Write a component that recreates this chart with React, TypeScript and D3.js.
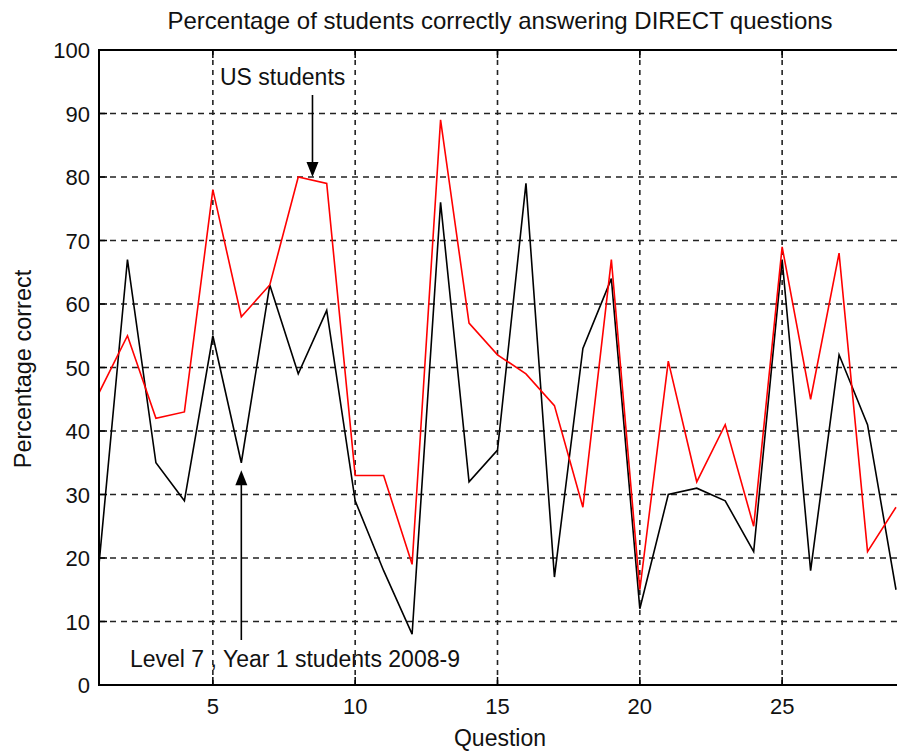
import React from "react";
import * as d3 from "d3";

const questions = d3.range(1, 30);
const levelSeven = [19, 67, 35, 29, 55, 35, 63, 49, 59, 29, 18, 8, 76, 32, 37, 79, 17, 53, 64, 12, 30, 31, 29, 21, 67, 18, 52, 41, 15];
const usStudents = [46, 55, 42, 43, 78, 58, 63, 80, 79, 33, 33, 19, 89, 57, 52, 49, 44, 28, 67, 15, 51, 32, 41, 25, 69, 45, 68, 21, 28];
const xTicks = [5, 10, 15, 20, 25];
const yTicks = [0, 10, 20, 30, 40, 50, 60, 70, 80, 90, 100];

const W = 897, H = 751;
const L = 99, R = 896, T = 50, B = 685;
const FONT = "'Liberation Sans', Arial, Helvetica, sans-serif";

export default function App() {
  const x = d3.scaleLinear().domain([1, 29]).range([L, R]);
  const y = d3.scaleLinear().domain([0, 100]).range([B, T]);
  const line = d3.line<number>().x((_, i) => x(questions[i])).y((d) => y(d));

  const usX = x(8.5), usTip = y(80);
  const lvX = x(6), lvTip = y(33.8);

  return (
    <svg width={W} height={H} style={{ position: "absolute", left: 0, top: 0, background: "#fff" }} fontFamily={FONT}>
      <defs>
        <clipPath id="plot">
          <rect x={L} y={T} width={W - L} height={B - T} />
        </clipPath>
      </defs>
      <rect x={0} y={0} width={W} height={H} fill="#fff" />
      {/* grid */}
      {yTicks.filter((t) => t > 0 && t < 100).map((t) => (
        <line key={"gy" + t} x1={L} x2={W} y1={y(t)} y2={y(t)} stroke="#222" strokeWidth={1.6} strokeDasharray="6,5" />
      ))}
      {xTicks.map((t) => (
        <line key={"gx" + t} x1={x(t)} x2={x(t)} y1={T} y2={B} stroke="#222" strokeWidth={1.6} strokeDasharray="5,5" />
      ))}
      {/* data */}
      <g clipPath="url(#plot)">
        <path d={line(levelSeven) || ""} fill="none" stroke="#000" strokeWidth={1.6} />
        <path d={line(usStudents) || ""} fill="none" stroke="#ff0000" strokeWidth={1.6} />
      </g>
      {/* axes */}
      <line x1={L} x2={L} y1={T - 1} y2={B + 1} stroke="#000" strokeWidth={2} />
      <line x1={L - 1} x2={W} y1={B} y2={B} stroke="#000" strokeWidth={2} />
      <line x1={L - 1} x2={W} y1={T} y2={T} stroke="#000" strokeWidth={2} />
      {xTicks.map((t) => (
        <line key={"tx" + t} x1={x(t)} x2={x(t)} y1={B} y2={B - 8} stroke="#000" strokeWidth={1.5} />
      ))}
      {xTicks.map((t) => (
        <line key={"tx2" + t} x1={x(t)} x2={x(t)} y1={T} y2={T + 8} stroke="#000" strokeWidth={1.5} />
      ))}
      {yTicks.map((t) => (
        <line key={"ty" + t} x1={L} x2={L + 8} y1={y(t)} y2={y(t)} stroke="#000" strokeWidth={1.5} />
      ))}
      {/* tick labels */}
      {yTicks.map((t) => (
        <text key={"ly" + t} x={L - 9} y={y(t) + 8} textAnchor="end" fontSize={22} fill="#111">{t}</text>
      ))}
      {xTicks.map((t) => (
        <text key={"lx" + t} x={x(t)} y={714} textAnchor="middle" fontSize={22} fill="#111">{t}</text>
      ))}
      {/* labels */}
      <text x={500} y={29} textAnchor="middle" fontSize={24} fill="#111">Percentage of students correctly answering DIRECT questions</text>
      <text x={500} y={746} textAnchor="middle" fontSize={23} fill="#111">Question</text>
      <text transform={`translate(31,369) rotate(-90)`} textAnchor="middle" fontSize={23.5} fill="#111">Percentage correct</text>
      {/* annotations */}
      <text x={220} y={85} fontSize={23} fill="#111">US students</text>
      <line x1={usX} x2={usX} y1={95} y2={usTip - 12} stroke="#000" strokeWidth={1.6} />
      <path d={`M${usX - 6},${usTip - 15} L${usX + 6},${usTip - 15} L${usX},${usTip} Z`} fill="#000" />
      <text x={130} y={667} fontSize={23} fill="#111">Level 7 , Year 1 students 2008-9</text>
      <line x1={lvX} x2={lvX} y1={640} y2={lvTip + 12} stroke="#000" strokeWidth={1.6} />
      <path d={`M${lvX - 6},${lvTip + 15} L${lvX + 6},${lvTip + 15} L${lvX},${lvTip} Z`} fill="#000" />
    </svg>
  );
}
